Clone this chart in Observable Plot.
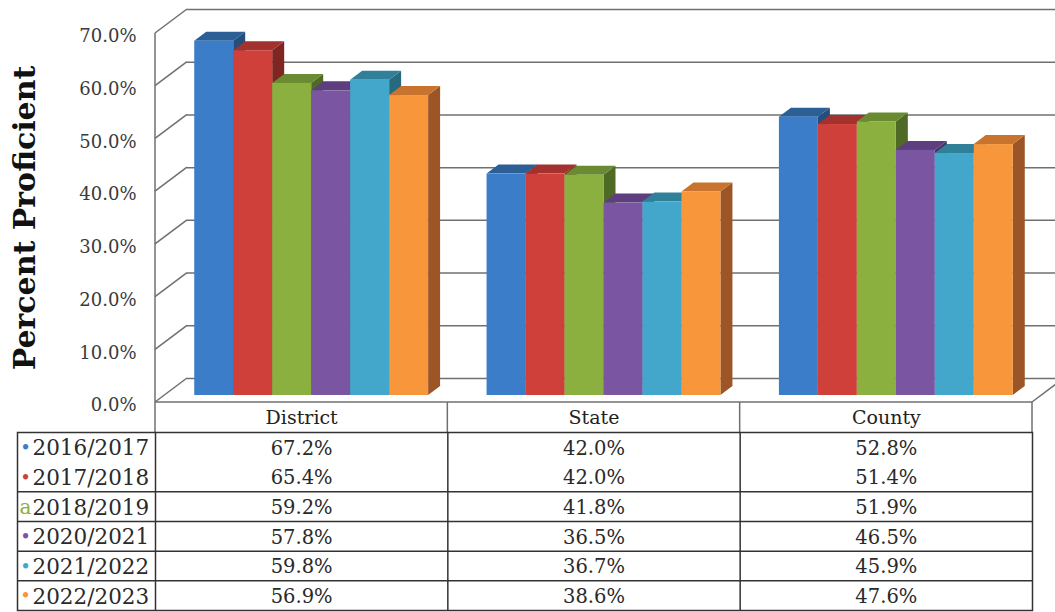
<!DOCTYPE html>
<html>
<head>
<meta charset="utf-8">
<script src="https://cdn.jsdelivr.net/npm/d3@7"></script>
<script src="https://cdn.jsdelivr.net/npm/@observablehq/plot@0.6"></script>
<style>
  html, body { margin: 0; padding: 0; background: #fff; overflow: hidden; }
  #chart { width: 1055px; height: 612px; }
  #chart svg { display: block; }
</style>
</head>
<body>
<div id="chart"></div>
<script>
// ---- data ----
const categories = ["District", "State", "County"];
const years = ["2016/2017", "2017/2018", "2018/2019", "2020/2021", "2021/2022", "2022/2023"];
const yearMarkers = ["•", "•", "a", "•", "•", "•"];
const districtValues = [67.2, 65.4, 59.2, 57.8, 59.8, 56.9];
const stateValues = [42.0, 42.0, 41.8, 36.5, 36.7, 38.6];
const countyValues = [52.8, 51.4, 51.9, 46.5, 45.9, 47.6];
const yTicks = [0, 10, 20, 30, 40, 50, 60, 70];
const yLabel = "Percent Proficient";

// ---- styles ----
const frontColors = ["#3b7dc8", "#cf403b", "#8bb03f", "#7a55a1", "#42a7cb", "#f7963a"];
const topColors = ["#2c5f96", "#a3312d", "#6a8b31", "#5d3f7f", "#30809a", "#c8742e"];
const sideColors = ["#234e7e", "#7f2522", "#4f6a24", "#4a3266", "#276a80", "#9b5526"];
const gridColor = "#707070";
const textColor = "#2a2a2a";
const font = "DejaVu Serif";

const valuesByCategory = {District: districtValues, State: stateValues, County: countyValues};
const data = categories.flatMap(c => years.map((y, i) => ({category: c, year: y, yi: i, value: valuesByCategory[c][i]})));

const W = 1055, H1 = 432, H2 = 180;
const xOptions = {type: "band", domain: categories, range: [155, 1032], paddingInner: 0.2, paddingOuter: 0.1, round: false, axis: null};
const xScale = Plot.scale({x: xOptions});
const subW = xScale.bandwidth / years.length;
const step = xScale.step;
const wall = {dx: 32, dy: -24};     // depth of the chart box
const shift = {dx: 10, dy: -7};     // position of bar fronts inside the box
const cap = {dx: 12, dy: -9};       // depth of each bar

const colorOpt = {domain: years, range: frontColors};

// 3D box (walls, floor, header separators), computed from Plot's scales
function box(index, scales, values, dims) {
  const {x, y} = scales;
  const {width, height, marginLeft, marginRight} = dims;
  const xl = marginLeft, xr = width - marginRight, y0 = y(0);
  const g = d3.create("svg:g").attr("fill", "none").attr("stroke", gridColor).attr("stroke-width", 1.5);
  g.append("line").attr("x1", xl).attr("y1", y(yTicks[yTicks.length - 1])).attr("x2", xl).attr("y2", height);
  for (const t of yTicks) {
    g.append("line").attr("x1", xl).attr("y1", y(t)).attr("x2", xl + wall.dx).attr("y2", y(t) + wall.dy);
  }
  g.append("line").attr("x1", xl).attr("y1", y0).attr("x2", xr).attr("y2", y0);
  g.append("line").attr("x1", xr).attr("y1", y0).attr("x2", xr + wall.dx).attr("y2", y0 + wall.dy);
  const stepW = x.step ? x.step() : step;
  for (const c of categories.slice(1)) {
    const xe = x(c) - (stepW - x.bandwidth()) / 2;
    g.append("line").attr("x1", xe).attr("y1", y0).attr("x2", xe).attr("y2", height);
  }
  g.append("line").attr("x1", xr).attr("y1", y0).attr("x2", xr).attr("y2", height);
  return g.node();
}

// top and side faces of the bars of one year
function barFaces(yi) {
  return (index, scales) => {
    const {x, y} = scales;
    const sw = x.bandwidth() / years.length;
    const g = d3.create("svg:g");
    for (const d of data.filter(d => d.yi === yi)) {
      const x0 = x(d.category) + yi * sw + shift.dx;
      const x1 = x0 + sw;
      const yt = y(d.value) + shift.dy;
      const yb = y(0) + shift.dy;
      g.append("path")
        .attr("d", `M${x1},${yt}L${x1 + cap.dx},${yt + cap.dy}L${x1 + cap.dx},${yb + cap.dy}L${x1},${yb}Z`)
        .attr("fill", sideColors[yi]);
      g.append("path")
        .attr("d", `M${x0},${yt}L${x0 + cap.dx},${yt + cap.dy}L${x1 + cap.dx},${yt + cap.dy}L${x1},${yt}Z`)
        .attr("fill", topColors[yi]);
    }
    return g.node();
  };
}

const barMarks = years.flatMap((yr, yi) => [
  barFaces(yi),
  Plot.barY(data.filter(d => d.yi === yi), {
    x: "category", y: "value", fill: "year",
    insetLeft: yi * subW, insetRight: (years.length - 1 - yi) * subW,
    dx: shift.dx, dy: shift.dy
  })
]);

const chart = Plot.plot({
  width: W, height: H1,
  marginLeft: 155, marginRight: 23, marginTop: 33, marginBottom: 30,
  x: xOptions,
  y: {domain: [0, 70], axis: null},
  color: colorOpt,
  style: {fontFamily: font, background: "white", overflow: "visible"},
  marks: [
    Plot.ruleY(yTicks, {y: d => d, dy: wall.dy, insetLeft: wall.dx, insetRight: -23, stroke: gridColor, strokeWidth: 1.5}),
    box,
    ...barMarks,
    Plot.text(yTicks, {y: d => d, text: d => d.toFixed(1) + "%", frameAnchor: "left", textAnchor: "end", dx: -19, dy: 3, fontSize: 18, fill: "#3a3a3a"}),
    Plot.text(categories, {x: d => d, text: d => d, frameAnchor: "bottom", dy: 21, fontSize: 19, fill: "#222"}),
    Plot.text([yLabel], {text: d => d, frameAnchor: "left", textAnchor: "middle", rotate: -90, dx: -130, fontSize: 30, fontWeight: "bold", fill: "#111"})
  ]
});

const rowH = H2 - 2;
const table = Plot.plot({
  width: W, height: H2,
  marginLeft: 17, marginRight: 23, marginTop: 0, marginBottom: 2,
  x: {type: "band", domain: categories, range: [155, 1032], padding: 0, round: false, axis: null},
  y: {type: "band", domain: years, padding: 0, round: false, axis: null},
  color: colorOpt,
  style: {fontFamily: font, background: "white", overflow: "visible"},
  marks: [
    Plot.frame({stroke: "#333", strokeWidth: 1.5}),
    Plot.ruleY(years.slice(2), {y: d => d, dy: -(rowH / years.length) / 2, stroke: "#333", strokeWidth: 1.5}),
    Plot.ruleX(categories, {x: d => d, dx: -step / 2, stroke: "#333", strokeWidth: 1.5}),
    Plot.text(data, {x: "category", y: "year", text: d => d.value.toFixed(1) + "%", fontSize: 19.5, fill: textColor, dy: 1}),
    Plot.text(years, {y: d => d, text: d => d, frameAnchor: "left", textAnchor: "start", dx: 15, dy: 1, fontSize: 21.5, fill: textColor}),
    Plot.text(years, {
      y: d => d, text: (d, i) => yearMarkers[i], fill: d => d,
      fontSize: (d, i) => (yearMarkers[i] === "a" ? 20 : 18),
      frameAnchor: "left", textAnchor: "middle", dx: 8, dy: 1
    })
  ]
});

const root = document.getElementById("chart");
root.appendChild(chart);
root.appendChild(table);
</script>
</body>
</html>
